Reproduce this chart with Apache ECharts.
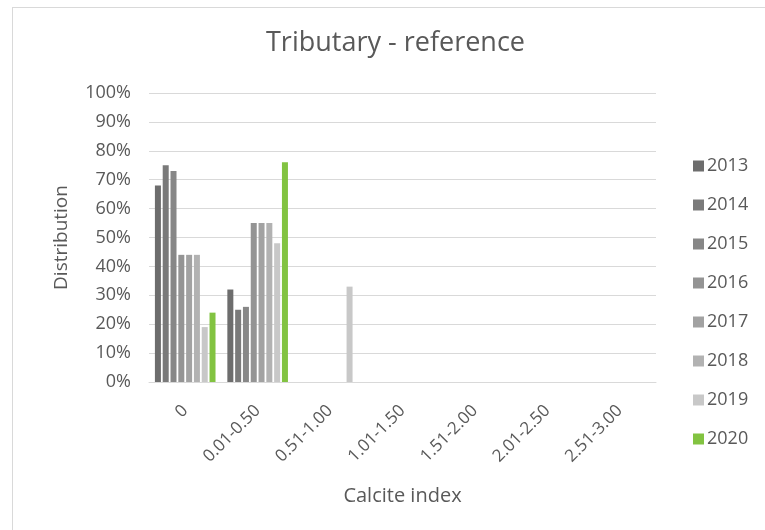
<!DOCTYPE html>
<html>
<head>
<meta charset="utf-8">
<script src="https://cdn.jsdelivr.net/npm/echarts@6/dist/echarts.min.js"></script>
<style>
  html, body { margin: 0; padding: 0; background: #fff; }
  #frame { position: absolute; left: 12px; top: 7px; width: 760px; height: 530px; border: 1px solid #d9d9d9; box-sizing: border-box; }
  #chart { position: absolute; left: 0; top: 0; width: 765px; height: 530px; }
</style>
</head>
<body>
<div id="frame"></div>
<div id="chart"></div>
<script>
// Calcite index classes
const categories = ['0', '0.01-0.50', '0.51-1.00', '1.01-1.50', '1.51-2.00', '2.01-2.50', '2.51-3.00'];
const years = ['2013', '2014', '2015', '2016', '2017', '2018', '2019', '2020'];

// Share of samples per class (%), one array per year
const v2013 = [68, 32, 0, 0, 0, 0, 0];
const v2014 = [75, 25, 0, 0, 0, 0, 0];
const v2015 = [73, 26, 0, 0, 0, 0, 0];
const v2016 = [44, 55, 0, 0, 0, 0, 0];
const v2017 = [44, 55, 0, 0, 0, 0, 0];
const v2018 = [44, 55, 0, 0, 0, 0, 0];
const v2019 = [19, 48, 33, 0, 0, 0, 0];
const v2020 = [24, 76, 0, 0, 0, 0, 0];

const yTicks = [0, 10, 20, 30, 40, 50, 60, 70, 80, 90, 100];

const seriesValues = [v2013, v2014, v2015, v2016, v2017, v2018, v2019, v2020];
const colors = ['#6d6d6d', '#7a7a7a', '#878787', '#949494', '#a2a2a2', '#b2b2b2', '#c8c8c8', '#82c341'];
const textColor = '#595959';
const font = '"Open Sans", "Liberation Sans", sans-serif';

const chart = echarts.init(document.getElementById('chart'), null, { renderer: 'canvas' });

chart.setOption({
  animation: false,
  color: colors,
  title: {
    text: 'Tributary - reference',
    left: 266,
    top: 30,
    padding: 0,
    textStyle: { color: textColor, fontSize: 27, fontWeight: 'normal', fontFamily: font }
  },
  legend: {
    orient: 'vertical',
    left: 693,
    top: 156,
    padding: 0,
    itemWidth: 11,
    itemHeight: 11,
    itemGap: 19,
    icon: 'rect',
    textStyle: { color: textColor, fontSize: 18, lineHeight: 20, fontFamily: font, padding: [0, 0, 0, -2] },
    data: years
  },
  grid: { left: 149, right: 109, top: 93, bottom: 148 },
  xAxis: {
    type: 'category',
    data: categories,
    name: 'Calcite index',
    nameLocation: 'middle',
    nameGap: 104,
    nameTextStyle: { color: textColor, fontSize: 20, fontFamily: font },
    axisLine: { lineStyle: { color: '#d9d9d9' } },
    axisTick: { show: false },
    axisLabel: {
      color: textColor, fontSize: 17, fontFamily: font,
      rotate: 45, margin: 26, interval: 0
    }
  },
  yAxis: {
    type: 'value',
    min: yTicks[0],
    max: yTicks[yTicks.length - 1],
    interval: 10,
    name: 'Distribution',
    nameLocation: 'middle',
    nameGap: 78,
    nameTextStyle: { color: textColor, fontSize: 19, fontFamily: font },
    axisLine: { show: false },
    axisTick: { show: false },
    splitLine: { lineStyle: { color: '#d9d9d9' } },
    axisLabel: {
      color: textColor, fontSize: 18, fontFamily: font, margin: 18,
      formatter: v => v + '%'
    }
  },
  series: years.map((y, i) => ({
    name: y,
    type: 'bar',
    data: seriesValues[i],
    barWidth: 6,
    barGap: '30%',
    itemStyle: { color: colors[i] }
  }))
});
</script>
</body>
</html>
